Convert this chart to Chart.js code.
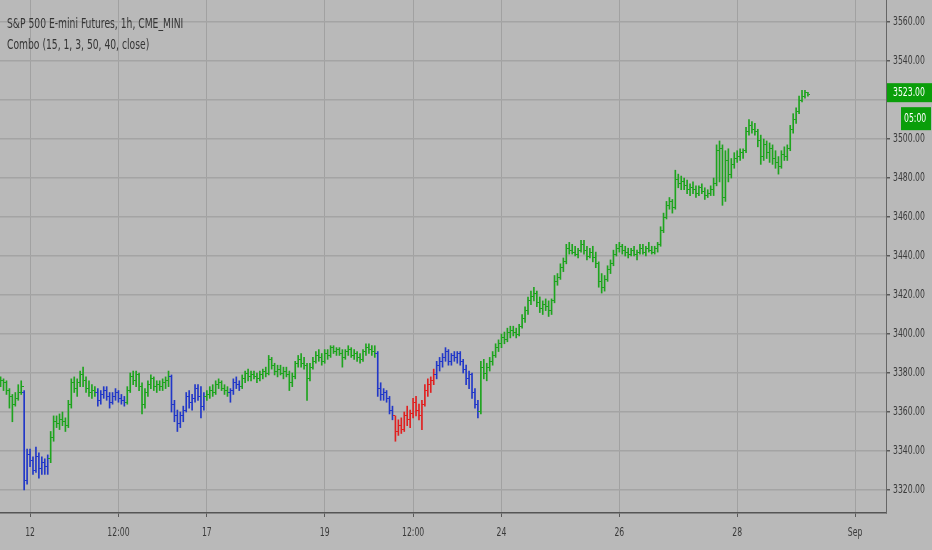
<!DOCTYPE html>
<html>
<head>
<meta charset="utf-8">
<script src="https://cdn.jsdelivr.net/npm/chart.js@4.4.1/dist/chart.umd.min.js"></script>
<style>
  html, body { margin: 0; padding: 0; background: #b9b9b9; }
  #wrap { position: relative; width: 932px; height: 550px; }
  .legend {
    position: absolute; left: 7px; color: #353535;
    font: 14px 'DejaVu Sans Condensed', 'Liberation Sans', sans-serif;
    line-height: 16px; white-space: nowrap;
    transform: scaleX(0.73); transform-origin: 0 0;
  }
</style>
</head>
<body>
<div id="wrap">
  <canvas id="price-chart" width="932" height="550"></canvas>
  <div class="legend" style="top:15px">S&amp;P 500 E-mini Futures, 1h, CME_MINI</div>
  <div class="legend" style="top:36px">Combo (15, 1, 3, 50, 40, close)</div>
</div>
<script>
// time axis labels (bar index -> text)
const tickIndex = [10, 40, 70, 110, 140, 170, 210, 250, 290];
const tickText = ['12', '12:00', '17', '19', '12:00', '24', '26', '28', 'Sep'];
const priceTicks = [3320, 3340, 3360, 3380, 3400, 3420, 3440, 3460, 3480, 3500, 3520, 3540, 3560];
const countdown = '05:00';

// hourly OHLC bars
const opens = [
  3375, 3376, 3375, 3371, 3368, 3364, 3367, 3370,
  3370, 3325, 3338, 3335, 3330, 3337, 3331, 3334, 3332,
  3336, 3347, 3355, 3354, 3356, 3355, 3353, 3364, 3375, 3372, 3375, 3379, 3376, 3372, 3370, 3371,
  3370, 3366, 3369, 3371, 3368, 3365, 3368, 3370, 3367, 3366,
  3365, 3371, 3378, 3376, 3379, 3373, 3364, 3370, 3374, 3377, 3373, 3374, 3373, 3375, 3376,
  3378, 3364, 3358, 3354, 3358, 3361, 3368, 3365, 3367, 3372, 3368, 3363,
  3368, 3369, 3371, 3370, 3374, 3375, 3372, 3371,
  3370, 3371, 3375, 3374,
  3373, 3377, 3380, 3378, 3379, 3378, 3377, 3379, 3381, 3380,
  3387, 3384, 3381, 3382, 3380, 3381, 3379, 3375, 3378, 3385,
  3387, 3385, 3384, 3377, 3383, 3386, 3389, 3388, 3386, 3390,
  3389, 3393, 3391, 3392, 3390, 3388, 3391, 3392, 3389, 3390,
  3388, 3387, 3391, 3393, 3392, 3391,
  3390, 3372, 3369, 3370, 3367, 3361,
  3358, 3350, 3353, 3351, 3358, 3356, 3359, 3365, 3361, 3358, 3364, 3371, 3374, 3376,
  3379, 3384, 3386, 3388, 3391, 3386, 3389, 3388, 3390, 3386, 3382, 3377, 3379, 3370, 3364,
  3360, 3383, 3380, 3383, 3386, 3389, 3393, 3395, 3398, 3397,
  3401, 3402, 3401, 3400, 3404, 3408, 3412, 3417, 3419, 3421,
  3416, 3413, 3415, 3414, 3412, 3417, 3427, 3429, 3434, 3437,
  3444, 3443, 3442, 3441, 3443, 3446, 3443, 3440, 3442, 3439,
  3436, 3427, 3424, 3428, 3433, 3436, 3441, 3444, 3445, 3443,
  3442, 3441, 3443, 3441, 3442, 3444, 3442, 3444, 3443, 3442,
  3444, 3446, 3453, 3460, 3466, 3468, 3465, 3479, 3477, 3478,
  3476, 3474, 3475, 3474, 3472, 3475, 3473, 3471, 3472, 3474,
  3477, 3494, 3495, 3470, 3489, 3482, 3487, 3490, 3491, 3493,
  3494, 3504, 3507, 3505, 3504, 3499, 3491, 3497, 3493, 3495,
  3490, 3488, 3486, 3492, 3491, 3495, 3505, 3510, 3514, 3520,
  3522, 3524
];
const highs = [
  3378, 3377, 3376, 3372, 3369, 3370, 3374, 3376,
  3371, 3341, 3341, 3337, 3342, 3339, 3337, 3336, 3338,
  3350, 3358, 3358, 3359, 3360, 3357, 3366, 3377, 3378, 3377, 3381, 3383, 3378, 3376, 3374, 3373,
  3372, 3371, 3373, 3373, 3370, 3370, 3372, 3371, 3369, 3368,
  3373, 3380, 3381, 3381, 3380, 3375, 3372, 3376, 3379, 3378, 3376, 3376, 3377, 3378, 3381,
  3379, 3366, 3361, 3360, 3363, 3370, 3371, 3369, 3374, 3374, 3373, 3370,
  3371, 3373, 3374, 3376, 3377, 3376, 3374, 3373,
  3372, 3377, 3378, 3376,
  3379, 3381, 3382, 3381, 3381, 3380, 3381, 3382, 3383, 3389,
  3388, 3385, 3384, 3384, 3383, 3383, 3381, 3380, 3386, 3389,
  3390, 3388, 3385, 3385, 3388, 3391, 3392, 3390, 3392, 3392,
  3394, 3394, 3393, 3393, 3392, 3392, 3394, 3393, 3392, 3391,
  3390, 3392, 3395, 3395, 3394, 3394,
  3391, 3375, 3372, 3371, 3368, 3363,
  3358, 3356, 3357, 3360, 3363, 3361, 3367, 3368, 3364, 3366, 3374, 3377, 3378, 3382,
  3386, 3388, 3390, 3393, 3392, 3390, 3391, 3391, 3391, 3387, 3384, 3381, 3380, 3372, 3366,
  3386, 3387, 3385, 3388, 3391, 3395, 3397, 3400, 3401, 3403,
  3404, 3404, 3403, 3405, 3410, 3414, 3419, 3422, 3424, 3422,
  3419, 3417, 3418, 3417, 3418, 3430, 3431, 3436, 3439, 3446,
  3447, 3446, 3445, 3444, 3448, 3448, 3445, 3444, 3445, 3442,
  3437, 3431, 3430, 3435, 3438, 3443, 3446, 3447, 3446, 3445,
  3444, 3444, 3445, 3443, 3446, 3446, 3445, 3447, 3445, 3445,
  3447, 3455, 3462, 3468, 3470, 3469, 3484, 3482, 3481, 3480,
  3479, 3477, 3478, 3476, 3476, 3477, 3475, 3474, 3476, 3480,
  3497, 3499, 3497, 3494, 3495, 3490, 3493, 3494, 3495, 3495,
  3506, 3510, 3509, 3508, 3505, 3502, 3500, 3499, 3498, 3497,
  3494, 3491, 3494, 3496, 3497, 3507, 3513, 3516, 3522, 3525,
  3525, 3524
];
const lows = [
  3373, 3371, 3369, 3362, 3355, 3363, 3366, 3369,
  3320, 3323, 3332, 3328, 3329, 3326, 3328, 3328, 3328,
  3334, 3345, 3352, 3351, 3353, 3350, 3352, 3362, 3370, 3368, 3373, 3373, 3370, 3368, 3367, 3368,
  3363, 3364, 3367, 3366, 3362, 3364, 3366, 3365, 3364, 3363,
  3364, 3370, 3374, 3373, 3371, 3359, 3362, 3368, 3372, 3371, 3370, 3371, 3371, 3372, 3373,
  3360, 3355, 3350, 3352, 3355, 3360, 3362, 3361, 3365, 3366, 3357, 3361,
  3366, 3367, 3368, 3369, 3372, 3371, 3369, 3368,
  3365, 3369, 3372, 3371,
  3372, 3375, 3376, 3376, 3377, 3375, 3376, 3377, 3378, 3379,
  3382, 3379, 3378, 3379, 3377, 3378, 3371, 3373, 3377, 3383,
  3383, 3382, 3366, 3376, 3382, 3385, 3386, 3384, 3385, 3387,
  3388, 3390, 3389, 3389, 3383, 3387, 3389, 3388, 3387, 3386,
  3385, 3386, 3389, 3390, 3389, 3388,
  3368, 3366, 3366, 3365, 3359, 3356,
  3345, 3348, 3349, 3350, 3353, 3352, 3357, 3358, 3356, 3351, 3363, 3368, 3370, 3374,
  3377, 3381, 3383, 3386, 3384, 3384, 3386, 3385, 3384, 3380, 3374, 3372, 3367, 3362, 3357,
  3359, 3377, 3376, 3381, 3384, 3388, 3391, 3393, 3395, 3396,
  3398, 3399, 3398, 3399, 3403, 3406, 3410, 3415, 3417, 3414,
  3411, 3410, 3412, 3409, 3410, 3416, 3425, 3428, 3432, 3436,
  3441, 3441, 3440, 3439, 3442, 3441, 3438, 3439, 3437, 3434,
  3424, 3421, 3422, 3427, 3431, 3435, 3440, 3442, 3441, 3440,
  3439, 3440, 3440, 3438, 3441, 3441, 3440, 3442, 3441, 3441,
  3442, 3445, 3452, 3459, 3464, 3462, 3464, 3475, 3474, 3474,
  3472, 3471, 3472, 3470, 3471, 3472, 3469, 3470, 3471, 3471,
  3476, 3478, 3466, 3468, 3478, 3480, 3485, 3488, 3489, 3490,
  3493, 3502, 3503, 3502, 3496, 3487, 3489, 3490, 3488, 3487,
  3485, 3482, 3485, 3489, 3489, 3494, 3503, 3508, 3513, 3519,
  3521, 3522
];
const closes = [
  3376, 3375, 3371, 3368, 3364, 3367, 3370, 3373,
  3325, 3338, 3335, 3330, 3337, 3331, 3334, 3332, 3336,
  3347, 3355, 3354, 3356, 3355, 3353, 3364, 3375, 3372, 3375, 3379, 3376, 3372, 3370, 3371, 3370,
  3366, 3369, 3371, 3368, 3365, 3368, 3370, 3367, 3366, 3365,
  3371, 3378, 3376, 3379, 3373, 3364, 3370, 3374, 3377, 3373, 3374, 3373, 3375, 3376, 3378,
  3364, 3358, 3354, 3358, 3361, 3368, 3365, 3367, 3372, 3368, 3363, 3368,
  3369, 3371, 3370, 3374, 3375, 3372, 3371, 3370,
  3371, 3375, 3374, 3373,
  3377, 3380, 3378, 3379, 3378, 3377, 3379, 3381, 3380, 3387,
  3384, 3381, 3382, 3380, 3381, 3379, 3375, 3378, 3385, 3387,
  3385, 3384, 3377, 3383, 3386, 3389, 3388, 3386, 3390, 3389,
  3393, 3391, 3392, 3390, 3388, 3391, 3392, 3389, 3390, 3388,
  3387, 3391, 3393, 3392, 3391, 3390,
  3372, 3369, 3370, 3367, 3361, 3358,
  3350, 3353, 3351, 3358, 3356, 3359, 3365, 3361, 3358, 3364, 3371, 3374, 3376, 3379,
  3384, 3386, 3388, 3391, 3386, 3389, 3388, 3390, 3386, 3382, 3377, 3379, 3370, 3364, 3360,
  3383, 3380, 3383, 3386, 3389, 3393, 3395, 3398, 3397, 3401,
  3402, 3401, 3400, 3404, 3408, 3412, 3417, 3419, 3421, 3416,
  3413, 3415, 3414, 3412, 3417, 3427, 3429, 3434, 3437, 3444,
  3443, 3442, 3441, 3443, 3446, 3443, 3440, 3442, 3439, 3436,
  3427, 3424, 3428, 3433, 3436, 3441, 3444, 3445, 3443, 3442,
  3441, 3443, 3441, 3442, 3444, 3442, 3444, 3443, 3442, 3444,
  3446, 3453, 3460, 3466, 3468, 3465, 3479, 3477, 3478, 3476,
  3474, 3475, 3474, 3472, 3475, 3473, 3471, 3472, 3474, 3477,
  3494, 3495, 3470, 3489, 3482, 3487, 3490, 3491, 3493, 3494,
  3504, 3507, 3505, 3504, 3499, 3491, 3497, 3493, 3495, 3490,
  3488, 3486, 3492, 3491, 3495, 3505, 3510, 3514, 3520, 3522,
  3524, 3523
];

// Combo indicator state: bar index where each colour run starts
const stateStart = [0, 8, 17, 33, 43, 58, 70, 78, 82, 128, 134, 148, 163];
const stateColor = ['g', 'b', 'g', 'b', 'g', 'b', 'g', 'b', 'g', 'b', 'r', 'b', 'g'];

const palette = { g: '#1ea41e', b: '#2238c8', r: '#e02020' };

const barColors = closes.map((_, i) => {
    let c = stateColor[0];
    stateStart.forEach((s, k) => { if (i >= s) c = stateColor[k]; });
    return palette[c];
});

// little canvases used as point styles for the open (left) and close (right) ticks
function tickImage(color, side) {
    const cv = document.createElement('canvas');
    cv.width = 5;
    cv.height = 1;
    const c = cv.getContext('2d');
    c.fillStyle = color;
    if (side === 'left') c.fillRect(0, 0, 2, 1);
    else c.fillRect(3, 0, 2, 1);
    return cv;
}
const openImg = {}, closeImg = {};
Object.values(palette).forEach(col => {
    openImg[col] = tickImage(col, 'left');
    closeImg[col] = tickImage(col, 'right');
});

const FONT = "'DejaVu Sans Condensed', 'Liberation Sans', sans-serif";
const SQUEEZE = 0.66;

function narrowText(ctx, text, x, y, align) {
    ctx.save();
    ctx.translate(x, y);
    ctx.scale(SQUEEZE, 1);
    ctx.textAlign = align;
    ctx.fillText(text, 0, 0);
    ctx.restore();
}

// axis labels, drawn narrow like the trading terminal font
const axisLabels = {
    id: 'axisLabels',
    afterDraw(chart) {
        const { ctx, chartArea } = chart;
        const xs = chart.scales.x, ys = chart.scales.y;
        const lastY = ys.getPixelForValue(closes[closes.length - 1]);
        ctx.save();
        ctx.font = '13px ' + FONT;
        ctx.fillStyle = '#3a3a3a';
        ctx.textBaseline = 'middle';
        priceTicks.forEach(v => {
            const py = ys.getPixelForValue(v);
            if (Math.abs(py - lastY) < 16) return; // hidden behind the last price tag
            narrowText(ctx, v.toFixed(2), chartArea.right + 7, py, 'left');
        });
        tickIndex.forEach((v, k) => {
            narrowText(ctx, tickText[k], xs.getPixelForValue(v), chartArea.bottom + 20, 'center');
        });
        ctx.restore();
    }
};

const lastPriceTag = {
    id: 'lastPriceTag',
    afterDraw(chart) {
        const ctx = chart.ctx;
        const last = closes[closes.length - 1];
        const y = chart.scales.y.getPixelForValue(last);
        const left = chart.chartArea.right + 1;
        ctx.save();
        ctx.fillStyle = '#0a9e0a';
        ctx.fillRect(left, y - 11, chart.width - left, 19);
        ctx.fillRect(left + 14, y + 13, chart.width - left - 15, 23);
        ctx.fillStyle = '#ffffff';
        ctx.font = '13px ' + FONT;
        ctx.textBaseline = 'middle';
        narrowText(ctx, last.toFixed(2), left + 6, y - 1.5, 'left');
        narrowText(ctx, countdown, left + 17, y + 24.5, 'left');
        ctx.restore();
    }
};

const idx = closes.map((_, i) => i);
const ctx = document.getElementById('price-chart').getContext('2d');

const priceChart = new Chart(ctx, {
    type: 'bar',
    data: {
        datasets: [
            {
                type: 'bar',
                data: idx.map(i => ({ x: i, y: [lows[i], highs[i]] })),
                backgroundColor: barColors,
                borderWidth: 0,
                barThickness: 1,
                order: 2
            },
            {
                type: 'scatter',
                data: idx.map(i => ({ x: i, y: opens[i] })),
                pointStyle: barColors.map(c => openImg[c]),
                order: 1
            },
            {
                type: 'scatter',
                data: idx.map(i => ({ x: i, y: closes[i] })),
                pointStyle: barColors.map(c => closeImg[c]),
                order: 1
            }
        ]
    },
    options: {
        responsive: false,
        animation: false,
        layout: { padding: 0, autoPadding: false },
        plugins: {
            legend: { display: false },
            tooltip: { enabled: false }
        },
        scales: {
            x: {
                type: 'linear',
                min: -0.2,
                max: 300.5,
                offset: false,
                afterBuildTicks: scale => {
                    scale.ticks = tickIndex.map(v => ({ value: v }));
                },
                afterFit: scale => {
                    scale.height = 37;
                    scale.paddingLeft = 0;
                    scale.paddingRight = 0;
                },
                ticks: { display: false },
                grid: {
                    offset: false,
                    color: '#a1a1a1',
                    lineWidth: 1,
                    tickLength: 4,
                    tickColor: '#5a5a5a'
                },
                border: { color: '#555555', width: 1.5 }
            },
            y: {
                position: 'right',
                min: 3308.2,
                max: 3571.3,
                afterBuildTicks: scale => {
                    scale.ticks = priceTicks.map(v => ({ value: v }));
                },
                afterFit: scale => {
                    scale.width = 46;
                    scale.paddingTop = 0;
                    scale.paddingBottom = 0;
                },
                ticks: { display: false },
                grid: {
                    color: '#a4a4a4',
                    lineWidth: 1.5,
                    tickLength: 4,
                    tickColor: '#5a5a5a'
                },
                border: { color: '#666666', width: 1 }
            }
        }
    },
    plugins: [axisLabels, lastPriceTag]
});
</script>
</body>
</html>
